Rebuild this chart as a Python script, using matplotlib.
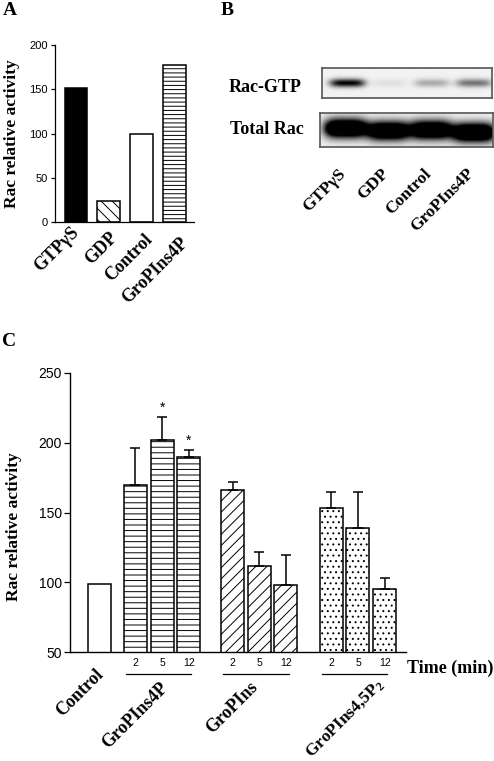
import numpy as np
import matplotlib
matplotlib.use("Agg")
import matplotlib.pyplot as plt
import matplotlib.transforms as mtransforms

plt.rcParams['font.family'] = ['Liberation Serif', 'DejaVu Serif']
plt.rcParams['mathtext.fontset'] = 'custom'
plt.rcParams['mathtext.rm'] = 'Liberation Serif:bold'
plt.rcParams['mathtext.it'] = 'Liberation Serif:bold'
plt.rcParams['hatch.linewidth'] = 0.7

# ---- panel A: pull-down quantification
a_labels = ["GTPγS", "GDP", "Control", "GroPIns4P"]
a_values = [151, 24, 100, 178]
a_fill = ["black", "white", "white", "white"]
a_hatch = [None, "\\\\\\", None, "----"]

# ---- panel B: western blot band intensities (0..1+, saturated above 1)
b_lanes = ["GTPγS", "GDP", "Control", "GroPIns4P"]
b_rac_gtp = [0.95, 0.07, 0.28, 0.5]
b_total_rac = [1.8, 1.7, 1.7, 1.8]
b_total_shift = [-0.1, 0.05, 0.0, 0.15]

# ---- panel C: time course
c_control = 99
c_groups = ["GroPIns4P", "GroPIns", "GroPIns4,5P$_2$"]
c_times = ["2", "5", "12"]
c_means = [[170, 202, 190], [166, 112, 98], [153, 139, 95]]
c_err = [[26, 16, 4.5], [5.5, 10, 21.5], [11.5, 26, 8.5]]
c_star = [[False, True, True], [False, False, False], [False, False, False]]
c_hatch = ["---", "///", "..."]
c_start = [1.36, 5.0, 8.7]   # x of first bar in each group

TICK_FONT = ['Liberation Sans', 'DejaVu Sans']

# label placement tweaks (x offset in data units, y in axes fraction)
A_LAB_DX = [-0.17, 0.0, 0.07, 0.14]
A_LAB_Y = [-0.01, -0.038, -0.05, -0.066]
C_LAB_DX = [-0.09, -0.39, 0.66]
C_LAB_Y = [-0.095, -0.095, -0.085]


def blot_image(intensity, wx, wy, shift=None, nx=400, ny=60):
    xs = np.linspace(-0.6, 3.45, nx)
    ys = np.linspace(-1, 1, ny)
    X, Y = np.meshgrid(xs, ys)
    img = np.full(X.shape, 0.05)
    for i, v in enumerate(intensity):
        dy = 0 if shift is None else shift[i]
        img += v * np.exp(-((X - i) / wx) ** 4) * np.exp(-((Y - dy) / wy) ** 2)
    return np.clip(img, 0, 1)


fig = plt.figure(figsize=(4.94, 7.61), dpi=100)

# ================= A =================
axA = fig.add_axes([55 / 494, 1 - 222.3 / 761, 139 / 494, 177.3 / 761])
xa = np.arange(len(a_values))
for x, v, fc, h in zip(xa, a_values, a_fill, a_hatch):
    axA.bar(x, v, width=0.7, color=fc, edgecolor="black", linewidth=1.1, hatch=h)
axA.set_xlim(-0.64, 3.6)
axA.set_ylim(0, 200)
axA.set_yticks([0, 50, 100, 150, 200])
axA.set_xticks([])
for lab in axA.get_yticklabels():
    lab.set_family(TICK_FONT)
axA.tick_params(axis="y", labelsize=8, length=3, width=0.9, pad=2)
for s in ("top", "right"):
    axA.spines[s].set_visible(False)
for s in ("left", "bottom"):
    axA.spines[s].set_linewidth(0.9)
axA.set_ylabel("Rac relative activity", fontsize=12.5, fontweight="bold")
axA.yaxis.set_label_coords(-0.25, 0.5)
transA = mtransforms.blended_transform_factory(axA.transData, axA.transAxes)
for x, lab, dx, ly in zip(xa, a_labels, A_LAB_DX, A_LAB_Y):
    axA.text(x + dx, ly, lab, transform=transA, rotation=45,
             rotation_mode="anchor", ha="right", va="top",
             fontsize=13, fontweight="bold")

# ================= B =================
axB1 = fig.add_axes([322 / 494, 1 - 98 / 761, 170 / 494, 30 / 761])
axB2 = fig.add_axes([320 / 494, 1 - 147 / 761, 173 / 494, 34 / 761])
axB1.imshow(blot_image(b_rac_gtp, 0.42, 0.28), extent=(-0.6, 3.45, -1, 1),
            aspect="auto", cmap="gray_r", vmin=0, vmax=1, interpolation="bilinear")
axB2.imshow(blot_image(b_total_rac, 0.5, 0.55, b_total_shift), extent=(-0.6, 3.45, -1, 1),
            aspect="auto", cmap="gray_r", vmin=0, vmax=1, interpolation="bilinear")
for ax in (axB1, axB2):
    ax.set_xticks([])
    ax.set_yticks([])
    for s in ax.spines.values():
        s.set_color("#555555")
        s.set_linewidth(1.2)
fig.text(229 / 494, 1 - 87 / 761, "Rac-GTP", ha="left", va="center",
         fontsize=13, fontweight="bold")
fig.text(230 / 494, 1 - 130 / 761, "Total Rac", ha="left", va="center",
         fontsize=13, fontweight="bold")
transB = mtransforms.blended_transform_factory(axB2.transData, axB2.transAxes)
for i, lab in enumerate(b_lanes):
    axB2.text(i - 0.18, -0.55, lab, transform=transB, rotation=45,
              rotation_mode="anchor", ha="right", va="top",
              fontsize=12.5, fontweight="bold")

# ================= C =================
axC = fig.add_axes([70 / 494, 1 - 652.3 / 761, 336 / 494, 279.6 / 761])
axC.bar(0, c_control, width=0.86, bottom=0, color="white", edgecolor="black",
        linewidth=1.1)
transC = mtransforms.blended_transform_factory(axC.transData, axC.transAxes)
for g, name in enumerate(c_groups):
    xs = c_start[g] + np.arange(len(c_times))
    axC.bar(xs, c_means[g], width=0.86, color="white", edgecolor="black",
            linewidth=1.1, hatch=c_hatch[g])
    axC.errorbar(xs, c_means[g], yerr=[np.zeros(len(xs)), c_err[g]], fmt="none",
                 ecolor="black", elinewidth=1.1, capsize=3.5, capthick=1.1)
    for x, m, e, st in zip(xs, c_means[g], c_err[g], c_star[g]):
        if st:
            axC.text(x, m + e + 2, "*", ha="center", va="bottom", fontsize=10,
                     family=TICK_FONT)
    for x, t in zip(xs, c_times):
        axC.text(x, -0.038, t, transform=transC, ha="center", va="center",
                 fontsize=7.5, family=TICK_FONT)
    axC.plot([xs[0] - 0.35, xs[-1] + 0.1], [-0.078, -0.078], transform=transC,
             color="black", lw=0.9, clip_on=False)
    axC.text(xs[1] + C_LAB_DX[g], C_LAB_Y[g], name, transform=transC, rotation=45,
             rotation_mode="anchor", ha="right", va="top",
             fontsize=12.5 if g == 2 else 13, fontweight="bold")
axC.text(-0.15, -0.05, "Control", transform=transC, rotation=45,
         rotation_mode="anchor", ha="right", va="top",
         fontsize=13, fontweight="bold")
axC.set_xlim(-1.09, 11.5)
axC.set_ylim(50, 250)
axC.set_yticks([50, 100, 150, 200, 250])
axC.set_xticks([])
for lab in axC.get_yticklabels():
    lab.set_family(TICK_FONT)
axC.tick_params(axis="y", labelsize=10, length=4, width=0.9, pad=2)
for s in ("top", "right"):
    axC.spines[s].set_visible(False)
for s in ("left", "bottom"):
    axC.spines[s].set_linewidth(1.0)
axC.set_ylabel("Rac relative activity", fontsize=12.5, fontweight="bold")
axC.yaxis.set_label_coords(-0.143, 0.45)
fig.text(407 / 494, 1 - 668 / 761, "Time (min)", ha="left", va="center",
         fontsize=13, fontweight="bold")

# panel letters
fig.text(3 / 494, 1 - 2 / 761, "A", ha="left", va="top", fontsize=14, fontweight="bold")
fig.text(221 / 494, 1 - 2 / 761, "B", ha="left", va="top", fontsize=14, fontweight="bold")
fig.text(2 / 494, 1 - 333 / 761, "C", ha="left", va="top", fontsize=14, fontweight="bold")

fig.savefig("out.png", dpi=100)
